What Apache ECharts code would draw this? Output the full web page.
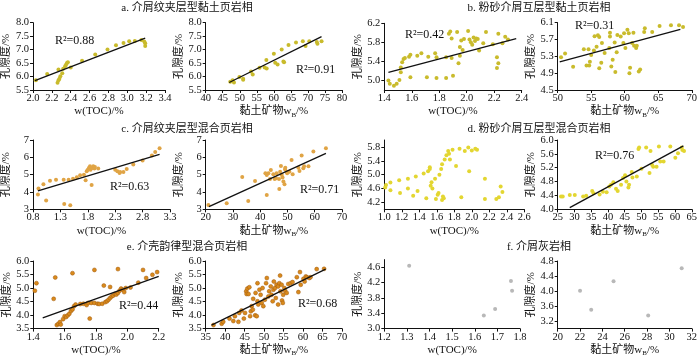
<!DOCTYPE html>
<html><head><meta charset="utf-8">
<script src="https://cdn.jsdelivr.net/npm/echarts@6/dist/echarts.min.js"></script>
<style>html,body{margin:0;padding:0;background:#fff}#c{width:700px;height:358px}</style>
</head><body><div id="c"></div>
<script>
// ---------- titles ----------
const titles = ['a. 介屑纹夹层型黏土页岩相','b. 粉砂介屑互层型黏土页岩相','c. 介屑纹夹层型混合页岩相','d. 粉砂介屑互层型混合页岩相','e. 介壳韵律型混合页岩相','f. 介屑灰岩相'];
const xNameTOC = 'w(TOC)/%';
const xNameClay = '黏土矿物w{s|B}/%';
const yName = '孔隙度/%';

// ---------- data: [x, porosity] ----------
const aTOC = [[2.03,5.86],[2.15,6.09],[2.26,5.77],[2.27,5.86],[2.28,5.92],[2.29,6.01],[2.27,6.26],[2.31,6.12],[2.32,6.29],[2.34,6.38],[2.35,6.44],[2.36,6.5],[2.37,6.53],[2.40,6.34],[2.52,6.59],[2.66,6.82],[2.79,7.0],[2.88,7.16],[2.96,7.25],[3.02,7.31],[3.08,7.32],[3.15,7.36],[3.18,7.3],[3.19,7.24],[3.19,7.13]];
const aClay = [[47.2,5.81],[47.9,5.86],[48.3,5.78],[49.9,5.98],[51.0,5.88],[51.0,5.92],[53.3,6.19],[53.8,6.08],[55.8,6.33],[57.3,6.34],[57.8,6.61],[57.9,6.3],[60.0,6.85],[60.4,6.51],[61.1,6.45],[62.3,7.0],[62.8,6.56],[63.0,6.53],[64.3,7.17],[66.5,7.26],[68.5,7.31],[69.3,7.13],[70.4,7.31],[72.6,7.28],[72.8,7.22],[74.0,7.31]];
const bTOC = [[1.43,5.0],[1.44,4.93],[1.47,4.89],[1.49,4.93],[1.51,5.01],[1.52,5.17],[1.52,5.27],[1.53,5.38],[1.54,5.45],[1.55,5.47],[1.58,5.5],[1.59,5.54],[1.59,5.07],[1.64,5.52],[1.67,5.57],[1.71,5.07],[1.72,5.5],[1.77,5.57],[1.78,5.05],[1.78,5.49],[1.85,5.05],[1.85,5.49],[1.87,5.98],[1.88,6.03],[1.89,5.88],[1.89,5.47],[1.90,5.1],[1.93,6.02],[1.94,5.36],[1.95,5.52],[1.95,5.7],[1.96,5.84],[1.97,5.64],[1.98,5.87],[2.01,6.04],[2.02,5.86],[2.03,5.8],[2.04,5.75],[2.05,5.9],[2.06,5.83],[2.07,5.88],[2.08,5.87],[2.09,5.63],[2.12,5.78],[2.14,6.02],[2.19,5.76],[2.22,5.49],[2.23,5.36],[2.22,5.26],[2.23,5.98],[2.26,5.78],[2.28,5.92],[2.3,5.86]];
const bClay = [[50.5,5.28],[51.1,5.37],[52.3,5.05],[53.9,5.47],[54.3,5.08],[54.6,5.47],[54.7,5.08],[54.8,5.17],[55.0,5.33],[55.4,5.44],[55.5,5.78],[55.8,5.53],[56.0,5.8],[56.2,5.76],[56.2,5.02],[56.5,5.15],[56.6,5.62],[57.0,5.38],[57.7,5.5],[57.8,5.86],[57.8,5.77],[58.0,5.06],[58.2,5.22],[58.5,5.63],[58.6,4.93],[58.8,5.4],[58.9,5.81],[59.4,5.77],[59.8,5.62],[59.9,5.85],[60.1,5.5],[60.4,5.93],[60.6,5.85],[60.7,4.9],[60.8,5.03],[61.1,5.62],[61.3,5.86],[61.4,5.55],[61.7,5.5],[61.8,5.55],[62.1,4.94],[62.3,4.99],[62.9,5.88],[63.0,5.97],[64.1,5.88],[65.2,6.02],[66.9,6.04],[68.1,6.04],[68.7,6.0]];
const cTOC = [[0.89,3.85],[0.9,4.2],[0.99,4.44],[1.04,3.51],[1.11,4.65],[1.22,4.71],[1.36,4.71],[1.37,3.31],[1.45,4.71],[1.48,3.23],[1.53,4.77],[1.6,4.85],[1.66,4.96],[1.73,5.0],[1.76,4.67],[1.78,5.19],[1.8,5.29],[1.82,5.38],[1.84,5.48],[1.85,5.29],[1.87,4.4],[1.89,5.38],[1.9,5.48],[1.92,5.35],[1.93,5.44],[1.99,5.35],[2.3,5.29],[2.34,5.19],[2.38,5.1],[2.39,5.15],[2.45,5.15],[2.51,5.33],[2.63,5.58],[2.8,5.81],[2.97,6.1],[3.03,6.31],[3.11,6.52]];
const cClay = [[21.0,3.25],[27.7,3.35],[33.4,4.87],[35.6,3.48],[38.1,4.63],[41.9,5.08],[42.4,4.98],[42.4,3.83],[43.0,5.08],[43.6,4.75],[43.9,5.27],[44.8,5.02],[45.3,4.75],[45.8,4.79],[46.0,5.08],[46.9,4.75],[47.0,4.17],[47.3,5.17],[47.6,5.5],[47.9,4.98],[48.2,4.83],[48.5,4.6],[48.9,4.44],[49.1,5.31],[49.2,5.4],[49.7,5.17],[49.9,5.08],[50.7,5.17],[51.5,5.85],[51.9,5.02],[54.0,5.4],[54.4,5.21],[55.2,6.1],[55.8,5.37],[56.1,5.48],[57.7,5.48],[59.5,6.33],[64.1,6.52]];
const dTOC = [[1.01,4.63],[1.02,4.7],[1.07,4.77],[1.07,4.55],[1.17,4.84],[1.18,4.47],[1.27,4.88],[1.27,4.6],[1.33,4.39],[1.36,4.95],[1.38,4.53],[1.45,5.03],[1.48,4.32],[1.5,5.1],[1.52,5.16],[1.52,5.21],[1.53,4.68],[1.54,4.78],[1.55,4.6],[1.58,4.88],[1.59,4.3],[1.61,4.42],[1.62,4.47],[1.63,5.0],[1.65,5.16],[1.66,5.3],[1.66,4.27],[1.67,4.37],[1.68,4.32],[1.69,5.44],[1.71,5.56],[1.73,5.68],[1.74,5.6],[1.75,5.44],[1.82,5.25],[1.78,5.72],[1.86,5.75],[1.88,4.35],[1.92,5.68],[1.96,5.78],[1.97,5.1],[2.0,5.7],[2.04,5.75],[2.06,5.72],[2.15,4.88],[2.15,4.3],[2.28,4.3],[2.31,4.35],[2.33,4.66],[2.35,4.5]];
const dClay = [[26.0,4.37],[26.5,4.37],[28.6,4.41],[30.1,4.41],[32.6,4.37],[33.5,4.39],[35.3,4.53],[35.7,4.46],[37.5,4.43],[38.5,4.51],[39.6,4.49],[40.4,4.66],[40.9,4.71],[41.6,4.78],[42.4,4.59],[42.9,4.53],[43.9,4.71],[44.5,4.9],[45.1,4.98],[45.5,4.8],[46.1,4.63],[46.3,4.71],[47.1,5.08],[47.3,4.92],[48.6,4.95],[49.1,5.74],[49.3,5.78],[50.0,5.17],[51.4,5.78],[52.4,5.05],[52.7,5.68],[53.2,5.28],[53.5,5.23],[54.5,5.23],[55.2,5.81],[55.6,5.38],[56.6,5.38],[58.6,5.81],[60.1,5.49],[60.9,5.62],[62.0,5.78],[62.2,5.71],[62.7,5.68]];
const eTOC = [[1.41,4.9],[1.42,5.18],[1.53,4.6],[1.54,5.39],[1.65,5.55],[1.79,5.67],[1.94,5.7],[2.1,5.67],[1.76,3.87],[1.55,3.63],[1.56,3.68],[1.57,3.74],[1.575,3.65],[1.59,3.85],[1.6,3.96],[1.61,3.93],[1.62,3.99],[1.63,4.05],[1.64,4.15],[1.65,4.21],[1.66,4.33],[1.67,4.39],[1.7,4.41],[1.72,4.42],[1.74,4.37],[1.75,4.45],[1.77,4.45],[1.79,4.45],[1.81,4.42],[1.82,4.41],[1.84,4.42],[1.86,4.48],[1.87,4.51],[1.88,4.57],[1.89,4.63],[1.9,4.69],[1.91,4.72],[1.92,4.78],[1.93,4.76],[1.94,4.82],[1.95,4.9],[1.96,4.98],[1.97,4.94],[1.98,4.85],[1.99,5.0],[1.85,5.09],[1.89,5.04],[2.02,5.02],[2.07,5.2],[2.12,5.37],[2.16,5.49],[2.19,5.59]];
const eClay = [[37.0,3.63],[39.1,3.68],[39.5,3.75],[41.1,3.87],[42.1,3.78],[42.5,3.96],[43.4,3.75],[43.6,4.08],[44.2,4.17],[44.8,3.87],[45.1,4.08],[45.4,4.88],[45.5,4.78],[45.7,4.98],[46.0,4.78],[46.2,5.03],[46.4,3.96],[46.6,4.14],[46.8,4.33],[47.1,4.2],[47.2,4.6],[47.7,3.99],[47.8,4.82],[48.1,3.96],[48.3,4.51],[48.3,5.18],[48.5,4.39],[48.8,4.94],[49.1,4.75],[49.4,4.45],[49.6,5.0],[49.8,4.33],[50.2,4.57],[50.5,5.18],[50.7,5.37],[51.1,4.69],[51.3,4.88],[51.7,5.06],[51.9,4.75],[52.2,4.51],[52.4,4.94],[52.5,5.24],[52.8,5.0],[53.0,4.63],[53.2,5.12],[53.6,5.06],[53.6,4.39],[53.9,5.18],[54.1,5.46],[54.2,4.88],[54.5,5.12],[54.6,4.54],[54.8,4.45],[54.9,4.75],[55.2,5.0],[55.4,4.9],[55.8,4.82],[56.2,5.15],[56.8,5.18],[57.3,5.22],[58.4,5.4],[58.8,4.85],[59.2,5.59],[59.4,5.12],[60.1,5.34],[60.4,5.24],[60.7,5.43],[61.0,5.4],[61.6,5.37],[61.9,5.4],[63.5,5.7],[65.4,5.71]];
const fTOC = [[1.31,4.64],[1.64,3.34],[1.69,3.51],[1.76,4.24],[1.765,3.99]];
const fClay = [[22.0,4.01],[23.0,3.5],[25.0,4.26],[28.1,3.35],[31.1,4.61]];

// ---------- fitted trend lines (endpoints) ----------
const aTOCfit = [[2.02,5.85],[3.19,7.43]];
const aClayfit = [[46.9,5.78],[74.0,7.48]];
const bTOCfit = [[1.43,5.17],[2.36,5.88]];
const bClayfit = [[50.3,5.17],[68.3,5.94]];
const cTOCfit = [[0.89,4.06],[3.11,6.17]];
const cClayfit = [[21.2,3.15],[64.1,6.23]];
const dClayfit = [[28.6,4.05],[62.5,5.83]];
const eTOCfit = [[1.46,3.9],[2.2,5.43]];
const eClayfit = [[36.5,3.63],[65.8,5.7]];
const r2 = ['0.88','0.91','0.42','0.31','0.63','0.71',null,'0.76','0.44','0.68',null,null];

// ---------- tick values ----------
const xt = [
  [2.0,2.2,2.4,2.6,2.8,3.0,3.2,3.4],[40,45,50,55,60,65,70,75,80],
  [1.4,1.6,1.8,2.0,2.2,2.4],[50,55,60,65,70],
  [0.8,1.3,1.8,2.3,2.8,3.3],[20,30,40,50,60,70],
  [1.0,1.2,1.4,1.6,1.8,2.0,2.2,2.4,2.6],[25,30,35,40,45,50,55,60,65],
  [1.4,1.6,1.8,2.0,2.2],[35,40,45,50,55,60,65,70],
  [1.2,1.3,1.4,1.5,1.6,1.7,1.8],[20,22,24,26,28,30,32]
];
const yt = [
  [5.5,6.0,6.5,7.0,7.5,8.0],[5.5,6.0,6.5,7.0,7.5,8.0],
  [5.0,5.4,5.8,6.2],[4.5,4.9,5.3,5.7,6.1],
  [3,4,5,6,7],[3,4,5,6,7],
  [4.2,4.6,5.0,5.4,5.8],[4.0,4.4,4.8,5.2,5.6,6.0],
  [3.5,4.0,4.5,5.0,5.5,6.0],[3.5,4.0,4.5,5.0,5.5,6.0],
  [3.0,3.4,3.8,4.2,4.6],[3.2,3.6,4.0,4.4,4.8]
];

// ---------- layout ----------
const panels = [
  {g:[32,22.7,133,67.3], xr:[2.0,3.4], yr:[5.5,8.0], xd:1, yd:1, data:aTOC, fit:aTOCfit, col:'#c9bb2c', r2p:[55,42]},
  {g:[205.7,22.7,136.3,67.3], xr:[40,80], yr:[5.5,8.0], xd:0, yd:1, data:aClay, fit:aClayfit, col:'#c9bb2c', r2p:[296,71]},
  {g:[384.3,23.3,137.4,66.7], xr:[1.4,2.4], yr:[4.8,6.2], xd:1, yd:1, data:bTOC, fit:bTOCfit, col:'#c9bb2c', r2p:[405,36]},
  {g:[557.7,22.7,135.6,67.3], xr:[50,70], yr:[4.5,6.1], xd:0, yd:1, data:bClay, fit:bClayfit, col:'#c9bb2c', r2p:[575,27]},
  {g:[32.7,140,137.3,69.3], xr:[0.8,3.3], yr:[3,7], xd:1, yd:0, data:cTOC, fit:cTOCfit, col:'#e0a445', r2p:[110,188]},
  {g:[205.7,140,136.3,69.3], xr:[20,70], yr:[3,7], xd:0, yd:0, data:cClay, fit:cClayfit, col:'#e0a445', r2p:[300,191]},
  {g:[384.3,140,140,69.3], xr:[1.0,2.6], yr:[4.0,6.0], xd:1, yd:1, data:dTOC, fit:null, col:'#e3d631', r2p:null},
  {g:[557.7,140,135.6,69.3], xr:[25,65], yr:[4.0,6.0], xd:0, yd:1, data:dClay, fit:dClayfit, col:'#e3d631', r2p:[595,157]},
  {g:[33.3,261,125.4,68.3], xr:[1.4,2.2], yr:[3.5,6.0], xd:1, yd:1, data:eTOC, fit:eTOCfit, col:'#d98a1c', r2p:[119,307]},
  {g:[205.7,261,136.3,68.3], xr:[35,70], yr:[3.5,6.0], xd:0, yd:1, data:eClay, fit:eClayfit, col:'#d98a1c', r2p:[298,305]},
  {g:[384.3,259.6,135.7,69.7], xr:[1.2,1.8], yr:[3.0,4.8], xd:1, yd:1, data:fTOC, fit:null, col:'#b8b8b8', r2p:null},
  {g:[557.7,261,135.6,68.3], xr:[20,32], yr:[3.0,4.8], xd:0, yd:1, data:fClay, fit:null, col:'#b8b8b8', r2p:null}
];

const SERIF = '"Liberation Serif","Times New Roman","Noto Sans CJK SC",serif';
const axisCommon = {
  axisLine:{show:true,onZero:false,lineStyle:{color:'#111',width:1}},
  axisTick:{show:true,length:3,lineStyle:{color:'#111',width:1}},
  splitLine:{show:false}
};

const grid=[], xAxis=[], yAxis=[], series=[], graphic=[];
panels.forEach((p,i)=>{
  grid.push({left:p.g[0], top:p.g[1], width:p.g[2], height:p.g[3], containLabel:false});
  xAxis.push(Object.assign({}, axisCommon, {
    type:'value', gridIndex:i, min:p.xr[0], max:p.xr[1],
    axisTick:Object.assign({}, axisCommon.axisTick, {customValues:xt[i]}),
    axisLabel:{customValues:xt[i], fontSize:10.5, color:'#111', margin:3, fontFamily:SERIF, formatter:v=>v.toFixed(p.xd)},
    name: i%2===0 ? xNameTOC : xNameClay, nameLocation:'middle', nameGap:13,
    nameTextStyle:{fontSize:11, color:'#111', fontFamily:SERIF, lineHeight:14,
      rich:{s:{fontSize:7, lineHeight:14, verticalAlign:'bottom', fontFamily:SERIF, color:'#111'}}}
  }));
  yAxis.push(Object.assign({}, axisCommon, {
    type:'value', gridIndex:i, min:p.yr[0], max:p.yr[1],
    axisTick:Object.assign({}, axisCommon.axisTick, {customValues:yt[i]}),
    axisLabel:{customValues:yt[i], fontSize:10.5, color:'#111', margin:4, fontFamily:SERIF, formatter:v=>v.toFixed(p.yd)},
    name:yName, nameLocation:'middle', nameGap:21, nameRotate:90,
    nameTextStyle:{fontSize:11, color:'#111', fontFamily:SERIF}
  }));
  series.push({type:'scatter', xAxisIndex:i, yAxisIndex:i, data:p.data, symbolSize:4, silent:true,
    itemStyle:{color:p.col, opacity:1, borderColor: i>=8&&i<10 ? '#a05a10' : p.col, borderWidth: i>=8&&i<10 ? 0.5 : 0}});
  if (p.fit) series.push({type:'line', xAxisIndex:i, yAxisIndex:i, data:p.fit, symbol:'none', silent:true,
    lineStyle:{color:'#111', width:1.3}, z:3});
  if (r2[i]) graphic.push({type:'text', left:p.r2p[0], top:p.r2p[1]-7,
    style:{text:'R²='+r2[i], font:'12px '+SERIF, fill:'#111'}});
});
const titlePos = [[187,8],[539,8],[187,129],[539,129],[187,247],[539,247]];
titles.forEach((t,k)=>{
  graphic.push({type:'text', x:titlePos[k][0], y:titlePos[k][1],
    style:{text:t, font:'11px '+SERIF, fill:'#111', align:'center', verticalAlign:'middle'}});
});

const chart = echarts.init(document.getElementById('c'), null, {renderer:'canvas'});
chart.setOption({animation:false, backgroundColor:'#fff', grid, xAxis, yAxis, series, graphic});
</script></body></html>
